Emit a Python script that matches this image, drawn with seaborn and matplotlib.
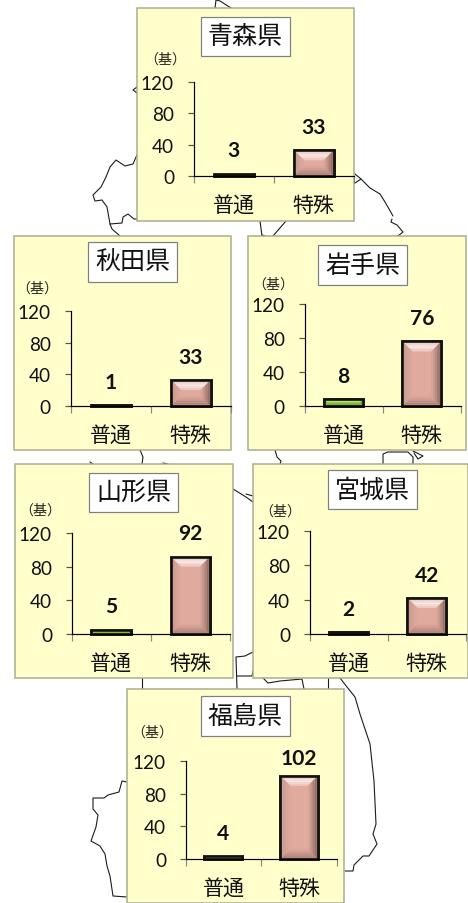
import matplotlib
matplotlib.use("Agg")#Use non-GUI backend for saving images
import matplotlib.pyplot as plt
import matplotlib.colors as mcolors
from matplotlib.patches import Polygon, Rectangle
import pandas as pd
import seaborn as sns

#Chart values
PREFECTURES = ["青森県", "秋田県", "岩手県", "山形県", "宮城県", "福島県"]
CATEGORIES = ["普通", "特殊"]
NORMAL_COUNTS = [3, 1, 8, 5, 2, 4]
SPECIAL_COUNTS = [33, 33, 76, 92, 42, 102]
Y_TICKS = [0, 40, 80, 120]
UNIT = "（基）"

#Layout in reference pixels
W, H = 468, 904
PANELS = [(137, 9, 354, 222), (14, 237, 231, 451), (248, 237, 466, 451),
          (15, 465, 233, 679), (253, 465, 468, 679), (127, 690, 344, 904)]
TITLE_BOXES = [(201, 18, 290, 57), (88, 243, 177, 283), (318, 246, 407, 286),
               (89, 474, 178, 513), (328, 471, 417, 510), (201, 697, 290, 737)]
PLOT_BOXES = [(193.5, 83, 354, 177), (70.5, 312, 231, 407), (304.5, 305, 461, 407),
              (71.5, 534, 230, 635), (309.5, 532, 466, 635), (185.5, 762, 337, 860)]
UNIT_SPOTS = [(165, 60), (37, 289), (273, 285), (40, 511), (280, 512), (152, 733)]
LABEL_GAPS = [(24, 23), (23, 23), (23, 23), (24, 24), (23, 23), (23, 18)]

#Bits of the map that show between the panels
MAP_LINES = [
    [(137, 156), (133, 165), (125, 167), (116, 161), (110, 168), (106, 178), (101, 188), (93, 196),
     (95, 202), (102, 201), (107, 208), (110, 225), (122, 224), (123, 218), (128, 215), (134, 220), (137, 220)],
    [(110, 225), (112, 230), (120, 237)],
    [(137, 88), (133, 91), (137, 94)],
    [(215, 9), (216, 1), (220, 2), (231, 9)],
    [(355, 175), (361, 180), (355, 184)],
    [(361, 180), (370, 189), (380, 195), (385, 203), (393, 217)],
    [(392, 220), (391, 223), (397, 226), (403, 233), (398, 237)],
    [(260, 222), (262, 237)],
    [(262, 236), (265, 237)],
    [(286, 222), (273, 237)],
    [(140, 451), (143, 458), (142, 465)],
    [(163, 464), (168, 465)],
    [(90, 463), (93, 465)],
    [(275, 451), (277, 458), (281, 462), (280, 465)],
    [(383, 465), (383, 455), (388, 453), (408, 453), (413, 458), (413, 465)],
    [(413, 452), (423, 457), (418, 460), (414, 454)],
    [(233, 490), (246, 498), (253, 503)],
    [(246, 495), (253, 497)],
    [(253, 653), (245, 657), (236, 658), (237, 690)],
    [(237, 677), (252, 677), (253, 672)],
    [(142, 679), (142, 690)],
    [(263, 679), (268, 684), (280, 682), (302, 680), (304, 690)],
    [(328, 679), (328, 690)],
    [(340, 679), (347, 688), (355, 698), (360, 715), (370, 745), (374, 782), (376, 825),
     (373, 835), (377, 845), (369, 857), (363, 857), (354, 866), (353, 872), (345, 872)],
    [(127, 783), (122, 782), (119, 793), (108, 796), (104, 799), (93, 799), (93, 810), (98, 816),
     (96, 828), (91, 842), (100, 847), (105, 855), (107, 867), (110, 877), (113, 897), (127, 898)],
]

#Bevel colours per bar type: face, top, left, right, bottom
BEVELS = {
    "普通": ("#8CC63F", "#C9EE90", "#7AAE38", "#55802A", "#6A9A30"),
    "特殊": ("#E0AA9E", "#FBEDE9", "#C4978C", "#7E5F58", "#A67C72"),
}

CJK = ["Noto Sans CJK JP", "DejaVu Sans"]
LATIN = ["Lato", "DejaVu Sans"]


def px(v):
    #Pixels to points at dpi 100
    return v * 0.72


def mix(a, b, t):
    a = mcolors.to_rgb(a)
    b = mcolors.to_rgb(b)
    return tuple(p + (q - p) * t for p, q in zip(a, b))


#Draw the raised look on one bar, using the bar's own geometry
def add_bevel(ax, bar, colours, width_px, height_px):
    x0, y0 = bar.get_x(), bar.get_y()
    x1, y1 = x0 + bar.get_width(), y0 + bar.get_height()
    sx = 2 / width_px
    sy = 120 / height_px
    depth = min(10, bar.get_width() / sx / 2, bar.get_height() / sy / 2)
    dx, dy = depth * sx, depth * sy
    face, top, left, right, bottom = colours
    z = bar.get_zorder() + 0.1
    steps = 6
    for j in range(steps):
        t0, t1 = j / steps, (j + 1) / steps
        mid = (t0 + t1) / 2
        ax0, ax1, ay0, ay1 = x0 + dx * t0, x1 - dx * t0, y0 + dy * t0, y1 - dy * t0
        bx0, bx1, by0, by1 = x0 + dx * t1, x1 - dx * t1, y0 + dy * t1, y1 - dy * t1
        #Top band peaks a little inside its edge, the others fade to the face
        top_weight = 1 - abs(mid - 0.55) * 1.4
        sides = [
            (mix(face, top, top_weight), [(ax0, ay1), (ax1, ay1), (bx1, by1), (bx0, by1)]),
            (mix(bottom, face, mid), [(ax0, ay0), (ax1, ay0), (bx1, by0), (bx0, by0)]),
            (mix(left, face, mid), [(ax0, ay0), (ax0, ay1), (bx0, by1), (bx0, by0)]),
            (mix(right, face, mid), [(ax1, ay0), (ax1, ay1), (bx1, by1), (bx1, by0)]),
        ]
        for colour, pts in sides:
            ax.add_patch(Polygon(pts, closed=True, facecolor=colour, edgecolor=colour, linewidth=0.2,
                                 zorder=z, clip_on=False))
    #Black outline goes back on top
    ax.add_patch(Rectangle((x0, y0), x1 - x0, y1 - y0, facecolor="none", edgecolor="#111111",
                           linewidth=px(2.6), zorder=z + 0.2, clip_on=False))


sns.set_theme(style="white")
plt.rcParams["font.family"] = CJK

fig = plt.figure(figsize=(W / 100, H / 100), dpi=100, facecolor="white")

#Background layer works in pixels: map scraps, panels, title boxes
bg = fig.add_axes([0, 0, 1, 1])
bg.set_xlim(0, W)
bg.set_ylim(H, 0)
bg.axis("off")

for line in MAP_LINES:
    bg.plot([p[0] for p in line], [p[1] for p in line], color="#1a1a1a", linewidth=px(1.1),
            solid_joinstyle="round", zorder=1)

for i, name in enumerate(PREFECTURES):
    x0, y0, x1, y1 = PANELS[i]
    bg.add_patch(Rectangle((x0, y0), x1 - x0, y1 - y0, facecolor="#FFFFCC", edgecolor="#ABAB8E",
                           linewidth=px(1.5), zorder=2))
    bx0, by0, bx1, by1 = TITLE_BOXES[i]
    bg.add_patch(Rectangle((bx0, by0), bx1 - bx0, by1 - by0, facecolor="white", edgecolor="#7F7F7F",
                           linewidth=px(1.2), zorder=3))
    bg.text((bx0 + bx1) / 2, (by0 + by1) / 2, name, fontsize=px(25), color="#111111",
            ha="center", va="center", zorder=4)
    ux, uy = UNIT_SPOTS[i]
    bg.text(ux, uy, UNIT, fontsize=px(14), color="#222222", ha="center", va="center", zorder=4)

#One small bar chart per prefecture
for i, name in enumerate(PREFECTURES):
    x0, y0, x1, y1 = PLOT_BOXES[i]
    width_px, height_px = x1 - x0, y1 - y0
    ax = fig.add_axes([x0 / W, 1 - y1 / H, width_px / W, height_px / H])
    ax.patch.set_alpha(0)

    df = pd.DataFrame({"kind": CATEGORIES, "count": [NORMAL_COUNTS[i], SPECIAL_COUNTS[i]]})
    sns.barplot(data=df, x="kind", y="count", hue="kind", order=CATEGORIES, hue_order=CATEGORIES,
                palette={k: BEVELS[k][0] for k in CATEGORIES}, saturation=1, width=0.5, legend=False,
                edgecolor="#111111", linewidth=px(2.6), ax=ax, zorder=3, clip_on=False)

    ax.set_xlim(-0.5, 1.5)
    ax.set_ylim(0, 120)
    ax.set_yticks(Y_TICKS)
    ax.set_xlabel("")
    ax.set_ylabel("")
    ax.set_xticks([-0.5, 0.5, 1.5], minor=True)
    ax.tick_params(axis="x", which="major", length=0, pad=px(18), labelsize=px(21), labelcolor="#111111")
    ax.tick_params(axis="x", which="minor", bottom=True, length=px(6.5), width=px(1.2), color="#8a8a7a")
    ax.tick_params(axis="y", left=True, length=px(6.5), width=px(1.2), pad=px(13), color="#555548",
                   labelsize=px(19), labelcolor="#111111")
    for lab in ax.get_yticklabels():
        lab.set_fontfamily(LATIN)

    sns.despine(ax=ax)
    for side in ["left", "bottom"]:
        ax.spines[side].set_color("black")
        ax.spines[side].set_linewidth(px(1.2))
        ax.spines[side].set_zorder(6)

    for bar, kind, gap in zip(ax.patches, CATEGORIES, LABEL_GAPS[i]):
        add_bevel(ax, bar, BEVELS[kind], width_px, height_px)
        ax.annotate(str(int(bar.get_height())), (bar.get_x() + bar.get_width() / 2, bar.get_height()),
                    xytext=(0, px(gap)), textcoords="offset points", ha="center", va="center",
                    fontsize=px(21), fontweight="bold", family=LATIN, color="#111111", zorder=8)

fig.savefig("out.png", dpi=100, facecolor="white")
plt.close(fig)
